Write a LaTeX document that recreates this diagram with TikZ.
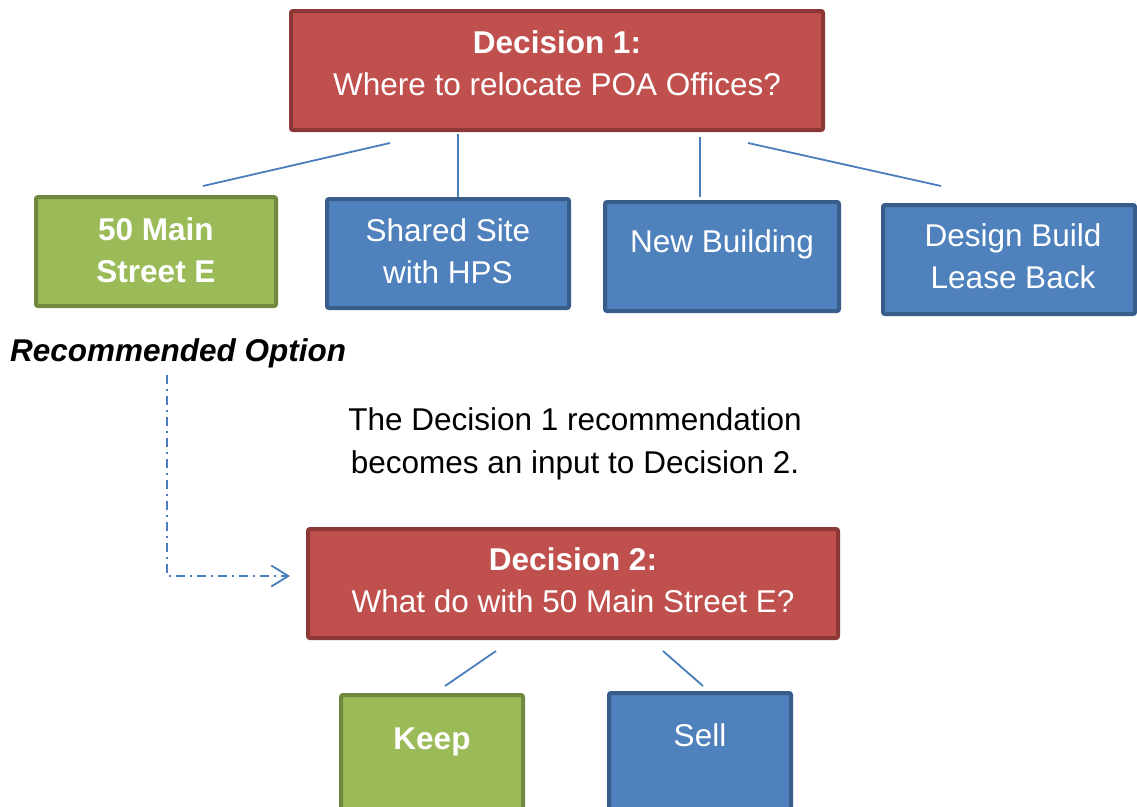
\documentclass[tikz,border=0pt]{standalone}
\usepackage{fontspec}
\setmainfont{Liberation Sans}
\usetikzlibrary{arrows.meta}
\definecolor{redfill}{HTML}{C0504D}
\definecolor{redline}{HTML}{8C3836}
\definecolor{greenfill}{HTML}{9BBB59}
\definecolor{greenline}{HTML}{71893F}
\definecolor{bluefill}{HTML}{4F81BD}
\definecolor{blueline}{HTML}{385D8A}
\definecolor{conn}{HTML}{4A7EBB}
\tikzset{
  boxbase/.style={rectangle, rounded corners=2pt, line width=4pt, inner sep=0pt},
  redbox/.style={boxbase, draw=redline, fill=redfill},
  greenbox/.style={boxbase, draw=greenline, fill=greenfill},
  bluebox/.style={boxbase, draw=blueline, fill=bluefill},
  boxtext/.style={text=white, align=center, font=\fontsize{31.5}{42}\selectfont, inner sep=0pt},
  plaintext/.style={text=black, align=center, font=\fontsize{31.5}{43}\selectfont, inner sep=0pt},
  connector/.style={draw=conn, line width=1.8pt},
  dashdotline/.style={draw=conn, line width=1.8pt, dash pattern=on 9pt off 5pt on 2pt off 5pt}
}
\begin{document}
\begin{tikzpicture}[x=1pt,y=-1pt]
\useasboundingbox (0,0) rectangle (1137,806);
% Decision 1
\node[redbox, minimum width=532, minimum height=119] (d1) at (557,70.5) {};
\node[boxtext] (d1t) at (557,63) {\textbf{Decision 1:}\\Where to relocate POA Offices?};
% options
\node[greenbox, minimum width=240, minimum height=109] (o1) at (156,251.5) {};
\node[boxtext] (o1t) at (156,250) {\textbf{50 Main}\\\textbf{Street E}};
\node[bluebox, minimum width=242, minimum height=109] (o2) at (448,253.5) {};
\node[boxtext] (o2t) at (448,251) {Shared Site\\with HPS};
\node[bluebox, minimum width=234, minimum height=109] (o3) at (722,256.5) {};
\node[boxtext] (o3t) at (722,244) {New Building};
\node[bluebox, minimum width=252, minimum height=109] (o4) at (1009,259.5) {};
\node[boxtext] (o4t) at (1013,256.5) {Design Build\\Lease Back};
% labels
\node[plaintext, font=\fontsize{31.5}{42}\selectfont\bfseries\itshape, anchor=west] (rec) at (10,353) {Recommended Option};
\node[plaintext] (note) at (575,444) {The Decision 1 recommendation\\becomes an input to Decision 2.};
% Decision 2
\node[redbox, minimum width=530, minimum height=109] (d2) at (573,583.5) {};
\node[boxtext] (d2t) at (573,580) {\textbf{Decision 2:}\\What do with 50 Main Street E?};
\node[greenbox, minimum width=182, minimum height=120] (k) at (432,755) {};
\node[boxtext] (kt) at (432,742) {\textbf{Keep}};
\node[bluebox, minimum width=182, minimum height=120] (s) at (700,753) {};
\node[boxtext] (st) at (700,735) {Sell};
% connector end points
\coordinate (a1) at (390,143); \coordinate (a2) at (203,186);
\coordinate (b1) at (458,134); \coordinate (b2) at (458,197);
\coordinate (c1) at (700,137); \coordinate (c2) at (700,197);
\coordinate (e1) at (748,143); \coordinate (e2) at (941,186);
\coordinate (f1) at (496,651); \coordinate (f2) at (445,686);
\coordinate (g1) at (663,651); \coordinate (g2) at (703,686);
\coordinate (r1) at (167,375); \coordinate (r2) at (167,576); \coordinate (r3) at (290,576);
\draw[connector] (a1) -- (a2);
\draw[connector] (b1) -- (b2);
\draw[connector] (c1) -- (c2);
\draw[connector] (e1) -- (e2);
\draw[connector] (f1) -- (f2);
\draw[connector] (g1) -- (g2);
\draw[dashdotline, -{Straight Barb[length=17pt,width=21pt,line width=1.8pt]}] (r1) -- (r2) -- (r3);
\end{tikzpicture}
\end{document}
